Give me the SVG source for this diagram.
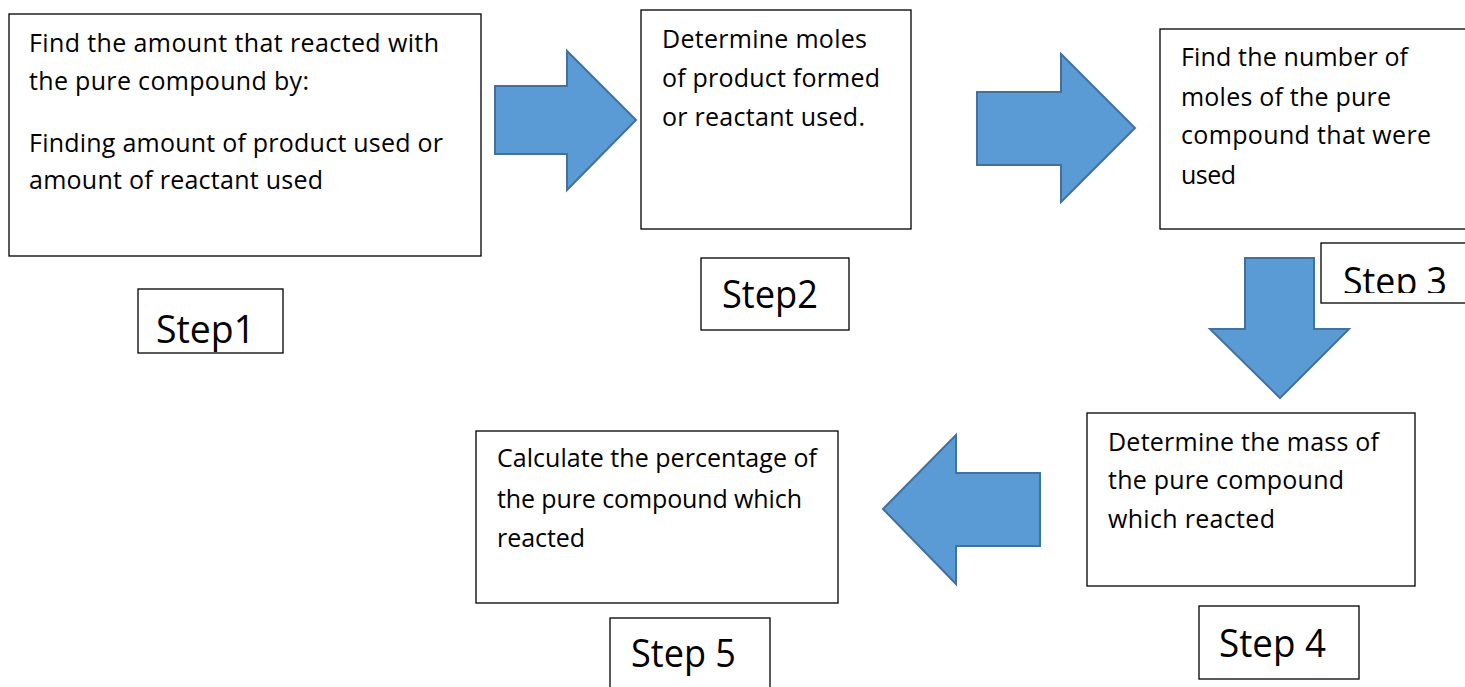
<svg xmlns="http://www.w3.org/2000/svg" width="1465" height="687" viewBox="0 0 1465 687">
<style>
.box{fill:#fff;stroke:#000;stroke-width:1.3}
.t{font-family:"Open Sans","Liberation Sans",sans-serif;font-size:25px;fill:#000}
.s{font-family:"Open Sans","Liberation Sans",sans-serif;font-size:39px;fill:#000}
.arr{fill:#5B9BD5;stroke:#41719C;stroke-width:2;stroke-linejoin:miter}
</style>
<defs>
<clipPath id="clip3"><rect x="1321" y="243" width="150" height="50"/></clipPath>
</defs>
<rect width="1465" height="687" fill="#fff"/>
<g id="connectors">
<polygon class="arr" points="495,86 567,86 567,51 636,120 567,190 567,154 495,154"/>
<polygon class="arr" points="977,92 1061,92 1061,54 1135,128 1061,202 1061,165 977,165"/>
<polygon class="arr" points="1245,258 1314,258 1314,329 1349,329 1280,398 1210,329 1245,329"/>
<polygon class="arr" points="883,509 956,435 956,473 1040,473 1040,546 956,546 956,584"/>
</g>
<g id="box1">
<rect class="box" x="9" y="14" width="472" height="242"/>
<text class="t" x="29" y="52" textLength="410" lengthAdjust="spacing">Find the amount that reacted with</text>
<text class="t" x="29" y="90" textLength="280" lengthAdjust="spacing">the pure compound by:</text>
<text class="t" x="29" y="152" textLength="414" lengthAdjust="spacing">Finding amount of product used or</text>
<text class="t" x="29" y="189" textLength="294" lengthAdjust="spacing">amount of reactant used</text>
</g>
<g id="box2">
<rect class="box" x="641" y="10" width="270" height="219"/>
<text class="t" x="662" y="48" textLength="205" lengthAdjust="spacing">Determine moles</text>
<text class="t" x="662" y="87" textLength="218" lengthAdjust="spacing">of product formed</text>
<text class="t" x="662" y="126" textLength="203" lengthAdjust="spacing">or reactant used.</text>
</g>
<g id="box3">
<rect class="box" x="1160" y="29" width="310" height="200"/>
<text class="t" x="1181" y="66" textLength="227" lengthAdjust="spacing">Find the number of</text>
<text class="t" x="1181" y="106" textLength="210" lengthAdjust="spacing">moles of the pure</text>
<text class="t" x="1181" y="144" textLength="250" lengthAdjust="spacing">compound that were</text>
<text class="t" x="1181" y="184" textLength="55" lengthAdjust="spacing">used</text>
</g>
<g id="box4">
<rect class="box" x="1087" y="413" width="328" height="173"/>
<text class="t" x="1108" y="451" textLength="271" lengthAdjust="spacing">Determine the mass of</text>
<text class="t" x="1108" y="489" textLength="236" lengthAdjust="spacing">the pure compound</text>
<text class="t" x="1108" y="528" textLength="167" lengthAdjust="spacing">which reacted</text>
</g>
<g id="box5">
<rect class="box" x="476" y="431" width="362" height="172"/>
<text class="t" x="497" y="467" textLength="320" lengthAdjust="spacing">Calculate the percentage of</text>
<text class="t" x="497" y="508" textLength="305" lengthAdjust="spacing">the pure compound which</text>
<text class="t" x="497" y="547" textLength="88" lengthAdjust="spacing">reacted</text>
</g>
<g id="step1">
<rect class="box" x="138" y="289" width="145" height="64"/>
<text class="s" x="156" y="343" textLength="99" lengthAdjust="spacingAndGlyphs">Step1</text>
</g>
<g id="step2">
<rect class="box" x="701" y="258" width="148" height="72"/>
<text class="s" x="722" y="308" textLength="96" lengthAdjust="spacingAndGlyphs">Step2</text>
</g>
<g id="step3">
<rect class="box" x="1321" y="243" width="150" height="60"/>
<text class="s" x="1343" y="295" textLength="104" lengthAdjust="spacingAndGlyphs" clip-path="url(#clip3)">Step 3</text>
</g>
<g id="step4">
<rect class="box" x="1199" y="606" width="160" height="73"/>
<text class="s" x="1219" y="657" textLength="107" lengthAdjust="spacingAndGlyphs">Step 4</text>
</g>
<g id="step5">
<rect class="box" x="610" y="618" width="160" height="75"/>
<text class="s" x="631" y="667" textLength="105" lengthAdjust="spacingAndGlyphs">Step 5</text>
</g>
</svg>
